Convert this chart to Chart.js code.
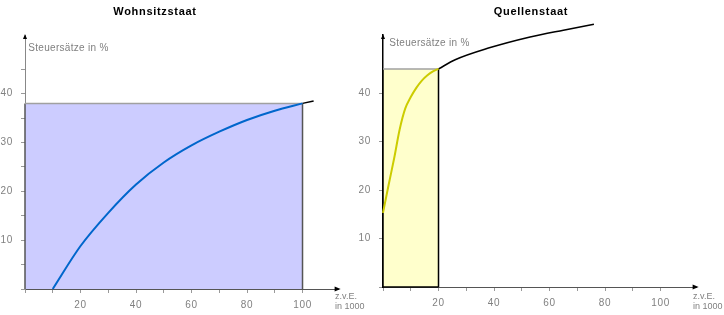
<!DOCTYPE html>
<html>
<head>
<meta charset="utf-8">
<script src="https://cdn.jsdelivr.net/npm/chart.js@4.4.1/dist/chart.umd.min.js"></script>
<style>
    html, body { margin: 0; padding: 0; background: #fff; }
    #wrap { position: relative; width: 724px; height: 315px; overflow: hidden; }
    canvas { position: absolute; top: 0; }
</style>
</head>
<body>
<div id="wrap">
    <canvas id="wohnsitz" width="370" height="315" style="left:0"></canvas>
    <canvas id="quellen" width="379" height="315" style="left:345px"></canvas>
</div>
<script>
// Wohnsitzstaat
var wohnRectX = [0, 0, 100, 100];
var wohnRectY = [0, 38, 38, 0];
var wohnCurveX = [10, 20, 30, 40, 50, 60, 70, 80, 90, 100];
var wohnCurveY = [0, 8.8, 15.6, 21.4, 25.9, 29.4, 32.2, 34.6, 36.5, 38];
var wohnTailX = [100, 104];
var wohnTailY = [38, 38.5];

// Quellenstaat
var quelRectX = [0, 0, 20, 20];
var quelRectY = [0, 45, 45, 0];
var quelBaseX = [0, 20];
var quelBaseY = [0, 0];
var quelCurveX = [0, 2, 4, 6, 8, 10, 12, 14, 16, 18, 20];
var quelCurveY = [15.3, 21, 26.5, 32.5, 36.8, 39.2, 41.1, 42.6, 43.7, 44.5, 45];
var quelTailX = [20, 26, 38, 53, 65, 76];
var quelTailY = [45, 46.9, 49.3, 51.6, 53, 54.2];

var xMax = 113;
var yMax = 52;

var FONT = '"Liberation Sans", Arial, sans-serif';
var GREY = '#808080';

function pts(xs, ys) {
    return xs.map(function (x, i) { return {x: x, y: ys[i]}; });
}

var deco = {
    id: 'deco',
    beforeDraw: function (chart) {
        // slightly spaced tick labels like the original
        chart.ctx.letterSpacing = '0.7px';
    },
    afterDraw: function (chart, args, o) {
        var ctx = chart.ctx, a = chart.chartArea;
        ctx.save();
        ctx.fillStyle = '#000';
        ctx.beginPath();
        ctx.moveTo(a.left, a.top - 1);
        ctx.lineTo(a.left - 2, a.top + 4);
        ctx.lineTo(a.left + 2, a.top + 4);
        ctx.closePath();
        ctx.fill();
        ctx.beginPath();
        ctx.moveTo(a.right + 2, a.bottom);
        ctx.lineTo(a.right - 4, a.bottom - 2.5);
        ctx.lineTo(a.right - 4, a.bottom + 2.5);
        ctx.closePath();
        ctx.fill();

        ctx.font = 'bold 11px ' + FONT;
        ctx.letterSpacing = '0.7px';
        ctx.textAlign = 'center';
        ctx.textBaseline = 'alphabetic';
        ctx.fillText(o.title, o.titleX, 15);

        ctx.fillStyle = GREY;
        ctx.textAlign = 'left';
        ctx.font = '10px ' + FONT;
        ctx.letterSpacing = '0.3px';
        ctx.fillText('Steuersätze in %', o.yLabelX, o.yLabelY);

        ctx.font = '9px ' + FONT;
        ctx.letterSpacing = '0px';
        ctx.fillText('z.v.E.', a.right - 3.5, 299);
        ctx.fillText('in 1000', a.right - 3.5, 308.5);
        ctx.restore();
        ctx.letterSpacing = '0px';
    }
};

function makeScales(yStep, yWidth, xHeight, yBorder) {
    return {
        x: {
            type: 'linear',
            min: 0,
            max: xMax,
            afterBuildTicks: function (axis) {
                axis.ticks = axis.ticks.filter(function (t) { return t.value % 10 === 0 && t.value <= 110; });
            },
            afterFit: function (s) { s.height = xHeight; },
            ticks: {
                stepSize: 10,
                autoSkip: false,
                maxRotation: 0,
                padding: 6,
                color: GREY,
                font: {family: FONT, size: 10},
                callback: function (v) { return (v > 0 && v % 20 === 0) ? v : ''; }
            },
            grid: {drawOnChartArea: false, drawTicks: true, tickLength: 4, color: '#999'},
            border: {display: true, color: '#555', dash: [1, 1], width: 1}
        },
        y: {
            type: 'linear',
            min: 0,
            max: yMax,
            afterBuildTicks: function (axis) {
                axis.ticks = axis.ticks.filter(function (t) { return t.value % yStep === 0 && t.value <= 45; });
            },
            afterFit: function (s) { s.width = yWidth; },
            ticks: {
                stepSize: 5,
                padding: 8,
                color: GREY,
                font: {family: FONT, size: 10},
                callback: function (v) { return (v > 0 && v % 10 === 0) ? v : ''; }
            },
            grid: {drawOnChartArea: false, drawTicks: true, tickLength: 4, color: '#999'},
            border: yBorder
        }
    };
}

function line(data, color, width, order, extra) {
    var ds = {
        data: data,
        borderColor: color,
        borderWidth: width,
        pointRadius: 0,
        fill: false,
        tension: 0,
        clip: false,
        order: order
    };
    for (var k in extra) ds[k] = extra[k];
    return ds;
}

new Chart(document.getElementById('wohnsitz'), {
    type: 'line',
    data: {
        datasets: [
            line(pts(wohnRectX, wohnRectY), '#555', 1.5, 3, {
                fill: 'origin',
                backgroundColor: '#ccccff',
                segment: {borderColor: function (c) { return c.p0DataIndex === 1 ? '#a0a0a0' : '#555'; }}
            }),
            line(pts(wohnTailX, wohnTailY), '#000', 1.5, 2, {}),
            line(pts(wohnCurveX, wohnCurveY), '#0066cc', 2, 1, {cubicInterpolationMode: 'monotone'})
        ]
    },
    options: {
        responsive: false,
        animation: false,
        events: [],
        layout: {padding: {top: 35, right: 31.4, left: 0, bottom: 0}},
        scales: makeScales(5, 25, 26, {display: true, color: '#888', dash: [1, 2], width: 1}),
        plugins: {
            legend: {display: false},
            tooltip: {enabled: false},
            deco: {title: 'Wohnsitzstaat', titleX: 155, yLabelX: 28.3, yLabelY: 50.5}
        }
    },
    plugins: [deco]
});

new Chart(document.getElementById('quellen'), {
    type: 'line',
    data: {
        datasets: [
            line(pts(quelRectX, quelRectY), '#000', 1.5, 4, {
                fill: 'origin',
                backgroundColor: '#ffffcc',
                segment: {borderColor: function (c) { return c.p0DataIndex === 1 ? '#a0a0a0' : '#000'; }}
            }),
            line(pts(quelBaseX, quelBaseY), '#000', 1.5, 3, {}),
            line(pts(quelTailX, quelTailY), '#000', 1.5, 2, {cubicInterpolationMode: 'monotone'}),
            line(pts(quelCurveX, quelCurveY), '#cccc00', 2, 1, {cubicInterpolationMode: 'monotone'})
        ]
    },
    options: {
        responsive: false,
        animation: false,
        events: [],
        layout: {padding: {top: 35, right: 27.4, left: 0, bottom: 0}},
        scales: makeScales(10, 38, 28, {display: true, color: '#000', width: 1.5}),
        plugins: {
            legend: {display: false},
            tooltip: {enabled: false},
            deco: {title: 'Quellenstaat', titleX: 186, yLabelX: 44.3, yLabelY: 45.5}
        }
    },
    plugins: [deco]
});
</script>
</body>
</html>
